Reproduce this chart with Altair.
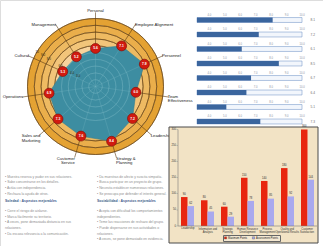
import math
import altair as alt
import pandas as pd

# ---------------- data ----------------
radar_axes = ["Personal", "Employee Alignment", "Personnel", "Team\nEffectiveness",
              "Leadership", "Strategy &\nPlanning", "Customer\nService",
              "Sales and\nMarketing", "Operations", "Cultural", "Management"]
radar_values = [5.6, 7.1, 7.9, 6.0, 7.2, 8.4, 7.6, 7.3, 6.9, 5.3, 5.2]
ring_values = [10, 9, 8, 7, 6]
ring_tick_values = [10, 9, 8, 6, 4, 3]
inner_grid_values = [1, 2, 3, 4, 5]

bullet_values = [8.1, 7.2, 6.1, 8.5, 6.7, 6.4, 5.1, 7.3]
bullet_ticks = [4.0, 5.0, 6.0, 7.0, 8.0, 9.0, 10.0]
bullet_domain = [3.2, 10.0]

left_lines = [
    "• Muestra reserva y pudor en sus relaciones.",
    "• Sabe concentrarse en los detalles.",
    "• Actúa con independencia.",
    "• Rechaza la ayuda de otros.",
    "Soledad : Aspectos mejorables",
    "• Corre el riesgo de aislarse.",
    "• Marca fácilmente su territorio.",
    "• A veces, pone demasiada distancia en sus",
    "relaciones.",
    "• Da escasa relevancia a la comunicación.",
]
right_lines = [
    "• Da muestras de afecto y suscita simpatía.",
    "• Busca participar en un proyecto de grupo.",
    "• Necesita establecer numerosas relaciones.",
    "• Se preocupa por defender el interés general.",
    "Sociabilidad : Aspectos mejorables",
    "• Acepta con dificultad los comportamientos",
    "independientes.",
    "• Teme las reacciones de rechazo del grupo.",
    "• Puede dispersarse en sus actividades o",
    "relaciones.",
    "• A veces, se pone demasiado en evidencia.",
]
header_index = 4

bar_categories = ["Leadership", "Information and|Analysis", "Strategic|Planning",
                  "Human Resource|Development", "Process|Management",
                  "Quality and|Operational Results", "Customer|Satisfaction"]
bar_series = ["Maximum Points", "Assessment Points"]
max_points = [90, 80, 60, 150, 140, 180, 300]
assessed_points = [62, 45, 29, 78, 85, 92, 144]
bar_y_ticks = [0, 50, 100, 150, 200, 250, 300]

# ---------------- styles / layout ----------------
FONT = "Liberation Sans"
W, H = 323, 246
R_PX = 68
CX, CY = 95.5, 86.5
SPOKE_LEN = 10.9
LABEL_R = 10.75
TICK_ANGLE = math.radians(301)
band_colors = ["#E4A233", "#EAAE4B", "#EEBA62", "#F2C57A", "#F8D39C"]
bar_colors = ["#E8260F", "#A9A9EE"]
AXIS_GRAY = "#7A7A7A"

rx = alt.Scale(domain=[-10, 10], range=[CX - R_PX, CX + R_PX], nice=False, zero=False)
ry = alt.Scale(domain=[-10, 10], range=[CY + R_PX, CY - R_PX], nice=False, zero=False)
rr = alt.Scale(type="linear", domain=[0, 10], range=[0, R_PX], nice=False, zero=True)
FULL = 2 * math.pi


def RX(f):
    return alt.X(f"{f}:Q", scale=rx, axis=None)


def RY(f):
    return alt.Y(f"{f}:Q", scale=ry, axis=None)


# ---------------- radar ----------------
n = len(radar_axes)
angles = [2 * math.pi * k / n for k in range(n)]


def align_of(a):
    s = math.sin(a)
    return "left" if s > 0.1 else ("right" if s < -0.1 else "center")


def base_of(a):
    c = math.cos(a)
    return "bottom" if c > 0.9 else ("top" if c < -0.6 else "middle")


radar_df = pd.DataFrame({
    "axis": radar_axes,
    "value": radar_values,
    "i": list(range(n)),
    "px": [v * math.sin(a) for v, a in zip(radar_values, angles)],
    "py": [v * math.cos(a) for v, a in zip(radar_values, angles)],
    "sx": [SPOKE_LEN * math.sin(a) for a in angles],
    "sy": [SPOKE_LEN * math.cos(a) for a in angles],
    "lx": [LABEL_R * math.sin(a) for a in angles],
    "ly": [LABEL_R * math.cos(a) for a in angles],
    "al": [align_of(a) for a in angles],
    "bl": [base_of(a) for a in angles],
    "cx": 0.0,
    "cy": 0.0,
})

band_names = [f"band{k}" for k in range(len(ring_values))]
band_df = pd.DataFrame({
    "outer": ring_values,
    "inner": ring_values[1:] + [0],
    "band": band_names,
    "cx": 0.0, "cy": 0.0,
})
ring_df = pd.DataFrame({"r": ring_values, "cx": 0.0, "cy": 0.0})
inner_df = pd.DataFrame({"r": inner_grid_values, "cx": 0.0, "cy": 0.0})
tick_df = pd.DataFrame({
    "v": ring_tick_values,
    "tx": [v * math.sin(TICK_ANGLE) for v in ring_tick_values],
    "ty": [v * math.cos(TICK_ANGLE) for v in ring_tick_values],
    "lab": ["10" if v == 10 else f"{v:.1f}" for v in ring_tick_values],
})

bands = alt.Chart(band_df).mark_arc(theta=0, theta2=FULL).encode(
    x=RX("cx"), y=RY("cy"),
    radius=alt.Radius("outer:Q", scale=rr),
    radius2=alt.Radius2("inner:Q"),
    color=alt.Color("band:N", scale=alt.Scale(domain=band_names, range=band_colors), legend=None),
)
ring_lines = alt.Chart(ring_df).mark_arc(
    theta=0, theta2=FULL, filled=False, stroke="#6A4514", strokeWidth=0.6
).encode(
    x=RX("cx"), y=RY("cy"),
    radius=alt.Radius("r:Q", scale=rr), radius2=alt.Radius2("r:Q"),
)
spokes = alt.Chart(radar_df).mark_rule(color="#5A3A12", strokeWidth=0.6).encode(
    x=RX("cx"), y=RY("cy"), x2="sx:Q", y2="sy:Q"
)
polygon = alt.Chart(radar_df).mark_line(
    interpolate="linear-closed", fill="#3D8DA1", stroke="#347D8E", strokeWidth=0.6
).encode(x=RX("px"), y=RY("py"), order="i:Q")
inner_rings = alt.Chart(inner_df).mark_arc(
    theta=0, theta2=FULL, filled=False, stroke="#7FBBC8", strokeWidth=0.5, opacity=0.5
).encode(
    x=RX("cx"), y=RY("cy"),
    radius=alt.Radius("r:Q", scale=rr), radius2=alt.Radius2("r:Q"),
)
inner_spokes = alt.Chart(radar_df).mark_rule(color="#7FBBC8", strokeWidth=0.5, opacity=0.5).encode(
    x=RX("cx"), y=RY("cy"), x2="px:Q", y2="py:Q"
)
points = alt.Chart(radar_df).mark_circle(
    size=100, color="#D11A10", opacity=1, stroke="#7A0A05", strokeWidth=0.6
).encode(x=RX("px"), y=RY("py"))
point_labels = alt.Chart(radar_df).mark_text(
    fontSize=3.3, color="white", fontWeight="bold"
).encode(x=RX("px"), y=RY("py"), text=alt.Text("value:Q", format=".1f"))
tick_labels = alt.Chart(tick_df).mark_text(fontSize=3, color="#2E2410").encode(
    x=RX("tx"), y=RY("ty"), text="lab:N"
)

label_layers = []
for al in ["left", "right", "center"]:
    for bl in ["top", "middle", "bottom"]:
        sub = radar_df[(radar_df.al == al) & (radar_df.bl == bl)]
        if len(sub) == 0:
            continue
        label_layers.append(
            alt.Chart(radar_df).transform_filter(
                f"datum.al == '{al}' && datum.bl == '{bl}'"
            ).mark_text(
                align=al, baseline=bl, fontSize=4.2, color="#1A1A1A",
                lineBreak="\n", lineHeight=4.6
            ).encode(x=RX("lx"), y=RY("ly"), text="axis:N")
        )

radar = alt.layer(bands, ring_lines, spokes, polygon, inner_rings, inner_spokes,
                  points, point_labels, tick_labels, *label_layers)

# ---------------- text block ----------------
rows = []
for col, lines in enumerate([left_lines, right_lines]):
    for k, t in enumerate(lines):
        slot = k + (0.35 if k >= header_index else 0) + (0.72 if k > header_index else 0)
        rows.append({"col": col, "slot": slot, "text": t, "header": k == header_index})
text_df = pd.DataFrame(rows)
tx = alt.Scale(domain=[0, 1], range=[5, 97], nice=False, zero=False)
ty = alt.Scale(domain=[0, 10], range=[176.7, 233.2], nice=False, zero=False)
body_text = alt.Chart(text_df).transform_filter("!datum.header").mark_text(
    align="left", baseline="middle", fontSize=3.4, color="#8E8E8E"
).encode(x=alt.X("col:Q", scale=tx, axis=None), y=alt.Y("slot:Q", scale=ty, axis=None), text="text:N")
head_text = alt.Chart(text_df).transform_filter("datum.header").mark_text(
    align="left", baseline="middle", fontSize=3.5, color="#3E5C8C", fontWeight="bold"
).encode(x=alt.X("col:Q", scale=tx, axis=None), y=alt.Y("slot:Q", scale=ty, axis=None), text="text:N")
text_block = alt.layer(body_text, head_text)

# ---------------- bullet bars ----------------
bx = alt.Scale(domain=bullet_domain, range=[197, 302], nice=False, zero=False)
by = alt.Scale(domain=[0, len(bullet_values) - 1], range=[20, 121.5], nice=False, zero=False)
b_df = pd.DataFrame({
    "row": list(range(len(bullet_values))),
    "value": bullet_values,
    "lo": bullet_domain[0],
    "hi": bullet_domain[1],
})
bt_df = pd.DataFrame([{"row": r, "t": t} for r in range(len(bullet_values)) for t in bullet_ticks])

b_box = alt.Chart(b_df).transform_calculate(y0="datum.row - 0.17", y1="datum.row + 0.17").mark_rect(
    fill="#F2F6FC", stroke="#7E9ECC", strokeWidth=0.6
).encode(x=alt.X("lo:Q", scale=bx, axis=None), x2="hi:Q",
         y=alt.Y("y0:Q", scale=by, axis=None), y2="y1:Q")
b_fill = alt.Chart(b_df).transform_calculate(y0="datum.row - 0.17", y1="datum.row + 0.17").mark_rect(
    fill="#3A659E"
).encode(x=alt.X("lo:Q", scale=bx, axis=None), x2="value:Q",
         y=alt.Y("y0:Q", scale=by, axis=None), y2="y1:Q")
b_ticks = alt.Chart(bt_df).mark_text(fontSize=2.7, color="#8C94A3", dy=-4.6).encode(
    x=alt.X("t:Q", scale=bx, axis=None), y=alt.Y("row:Q", scale=by, axis=None),
    text=alt.Text("t:Q", format=".1f"))
b_vals = alt.Chart(b_df).mark_text(align="left", dx=8.5, fontSize=3.2, color="#6B6B6B").encode(
    x=alt.X("hi:Q", scale=bx, axis=None), y=alt.Y("row:Q", scale=by, axis=None),
    text=alt.Text("value:Q", format=".1f"))
bullets = alt.layer(b_box, b_fill, b_ticks, b_vals)

# ---------------- bar chart frame ----------------
frame_df = pd.DataFrame({"x0": [0], "x1": [1], "y0": [0], "y1": [1]})
frame = alt.Chart(frame_df).mark_rect(fill="#F2E3C5", stroke="#4A4A4A", strokeWidth=1).encode(
    x=alt.X("x0:Q", scale=alt.Scale(domain=[0, 1], range=[169, 318], nice=False, zero=False), axis=None),
    x2="x1:Q",
    y=alt.Y("y0:Q", scale=alt.Scale(domain=[0, 1], range=[127, 243], nice=False, zero=False), axis=None),
    y2="y1:Q",
)

# ---------------- grouped bars ----------------
bar_rows = []
for c, m, a in zip(bar_categories, max_points, assessed_points):
    bar_rows.append({"cat": c, "series": bar_series[0], "pts": m})
    bar_rows.append({"cat": c, "series": bar_series[1], "pts": a})
bar_df = pd.DataFrame(bar_rows)

PLOT_X = [178, 317]
bxs = alt.Scale(domain=bar_categories, range=PLOT_X, paddingInner=0.35, paddingOuter=0.15)
bys = alt.Scale(domain=[0, 300], range=[226, 129.5], nice=False, zero=True)
plot_x = alt.Scale(domain=[0, 1], range=PLOT_X, nice=False, zero=False)
xo = alt.XOffset("series:N", sort=bar_series, scale=alt.Scale(domain=bar_series))

bars = alt.Chart(bar_df).mark_bar().encode(
    x=alt.X("cat:N", sort=bar_categories, scale=bxs, axis=None),
    y=alt.Y("pts:Q", scale=bys, axis=None),
    xOffset=xo,
    color=alt.Color("series:N", sort=bar_series,
                    scale=alt.Scale(domain=bar_series, range=bar_colors),
                    legend=alt.Legend(orient="none", legendX=223, legendY=235,
                                      direction="horizontal", title=None,
                                      labelFontSize=2.6, labelColor="#222", labelFont=FONT,
                                      symbolSize=5, symbolType="square",
                                      symbolStrokeColor="#333", symbolStrokeWidth=0.3,
                                      columnPadding=3, padding=1, labelOffset=1,
                                      strokeColor="#666", fillColor="#F4E8D2")),
)
bar_text = alt.Chart(bar_df).mark_text(baseline="bottom", dy=-0.8, fontSize=2.6, color="#222").encode(
    x=alt.X("cat:N", sort=bar_categories, scale=bxs, axis=None),
    y=alt.Y("pts:Q", scale=bys, axis=None),
    xOffset=xo, text="pts:Q",
)

# axis lines and labels of the bar chart
axis_df = pd.DataFrame({"x0": [0], "x1": [1], "y0": [bar_y_ticks[0]], "y1": [bar_y_ticks[-1]]})
y_axis_line = alt.Chart(axis_df).mark_rule(color=AXIS_GRAY, strokeWidth=0.6).encode(
    x=alt.X("x0:Q", scale=plot_x, axis=None),
    y=alt.Y("y0:Q", scale=bys, axis=None), y2="y1:Q")
x_axis_line = alt.Chart(axis_df).mark_rule(color=AXIS_GRAY, strokeWidth=0.6).encode(
    x=alt.X("x0:Q", scale=plot_x, axis=None), x2="x1:Q",
    y=alt.Y("y0:Q", scale=bys, axis=None))
ytick_df = pd.DataFrame({"x0": 0, "v": bar_y_ticks})
y_tick_marks = alt.Chart(ytick_df).mark_tick(
    orient="horizontal", size=1.5, thickness=0.5, color=AXIS_GRAY, xOffset=-0.75
).encode(x=alt.X("x0:Q", scale=plot_x, axis=None), y=alt.Y("v:Q", scale=bys, axis=None))
y_tick_labels = alt.Chart(ytick_df).mark_text(
    align="right", baseline="middle", dx=-2, fontSize=2.7, color="#333"
).encode(x=alt.X("x0:Q", scale=plot_x, axis=None), y=alt.Y("v:Q", scale=bys, axis=None),
         text="v:Q")
xlab_df = pd.DataFrame({"cat": bar_categories, "y0": bar_y_ticks[0]})
x_tick_labels = alt.Chart(xlab_df).mark_text(
    baseline="top", dy=1.8, fontSize=2.7, color="#333", lineBreak="|", lineHeight=3.1
).encode(x=alt.X("cat:N", sort=bar_categories, scale=bxs, axis=None),
         y=alt.Y("y0:Q", scale=bys, axis=None), text="cat:N")

bar_chart = alt.layer(bars, bar_text, x_tick_labels, y_axis_line, x_axis_line,
                      y_tick_marks, y_tick_labels).resolve_scale(x="independent")

chart = alt.layer(radar, text_block, bullets, frame, bar_chart).resolve_scale(
    x="independent", y="independent", color="independent"
).properties(
    width=W, height=H, padding=0, background="white",
    autosize=alt.AutoSizeParams(type="none"),
).configure_view(stroke=None).configure(font=FONT)

chart.save("out.html", embed_options={"renderer": "svg", "actions": False})
